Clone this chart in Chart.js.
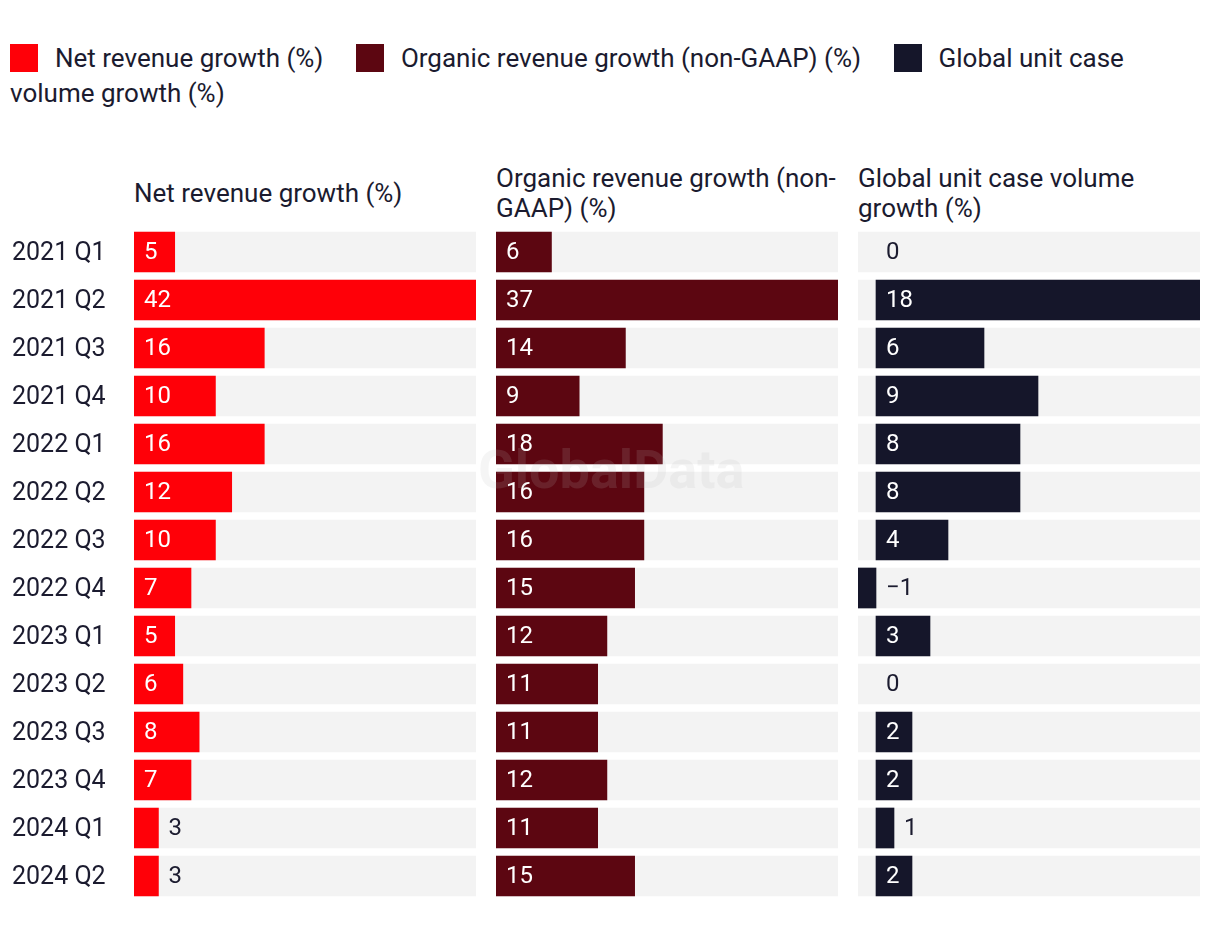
<!DOCTYPE html>
<html>
<head>
<meta charset="utf-8">
<script src="https://cdn.jsdelivr.net/npm/chart.js@4.4.1/dist/chart.umd.min.js"></script>
<style>
  body { margin: 0; background: #fff; font-family: Roboto, sans-serif; color: #1b1b2f; }
  #wrap { position: relative; width: 1220px; height: 940px; }
  #legend { position: absolute; left: 10px; top: 41px; width: 1160px; font-size: 26px; line-height: 35px; }
  #legend .sw { display: inline-block; width: 28px; height: 28px; vertical-align: -5px; margin-right: 17px; }
  #legend .it { margin-right: 26px; }
  .ttl { position: absolute; top: 160px; height: 66px; width: 342px; display: flex; align-items: center; font-size: 26px; line-height: 30px; }
  canvas { position: absolute; }
  #wm { position: absolute; left: 478px; top: 438px; font-size: 54px; font-weight: bold; color: rgba(190,190,190,0.15); pointer-events: none; font-family: Roboto, sans-serif; }
</style>
</head>
<body>
<div id="wrap">
  <div id="legend"></div>
  <div class="ttl" id="t1" style="left:134px"></div>
  <div class="ttl" id="t2" style="left:496px"></div>
  <div class="ttl" id="t3" style="left:858px"></div>
  <canvas id="c1" style="left:0px;top:228px" width="476" height="672"></canvas>
  <canvas id="c2" style="left:496px;top:228px" width="342" height="672"></canvas>
  <canvas id="c3" style="left:858px;top:228px" width="342" height="672"></canvas>
  <div id="wm">GlobalData</div>
</div>
<script>
const quarters = ["2021 Q1", "2021 Q2", "2021 Q3", "2021 Q4", "2022 Q1", "2022 Q2", "2022 Q3",
  "2022 Q4", "2023 Q1", "2023 Q2", "2023 Q3", "2023 Q4", "2024 Q1", "2024 Q2"];
const seriesNames = ["Net revenue growth (%)", "Organic revenue growth (non-GAAP) (%)", "Global unit case volume growth (%)"];
const netRevenue = [5, 42, 16, 10, 16, 12, 10, 7, 5, 6, 8, 7, 3, 3];
const organicRevenue = [6, 37, 14, 9, 18, 16, 16, 15, 12, 11, 11, 12, 11, 15];
const unitCase = [0, 18, 6, 9, 8, 8, 4, -1, 3, 0, 2, 2, 1, 2];
const colors = ["#ff0008", "#5c0611", "#15162a"];
const trackColor = "#f3f3f3";
const textDark = "#1b1b2f";
const font = "Roboto, sans-serif";

// legend + titles as plain html text
document.getElementById("legend").innerHTML = seriesNames.map((n, i) =>
  '<span class="it"><span class="sw" style="background:' + colors[i] + '"></span>' + n + '</span>').join(" ");
document.getElementById("t1").textContent = seriesNames[0];
document.getElementById("t2").textContent = seriesNames[1];
document.getElementById("t3").textContent = seriesNames[2];

// value labels: white inside the bar when it fits, dark beside it otherwise
const valueLabels = {
  id: "valueLabels",
  afterDatasetsDraw(chart) {
    const ctx = chart.ctx;
    const meta = chart.getDatasetMeta(1);
    const vals = chart.data.datasets[1].data;
    const zero = chart.scales.x.getPixelForValue(0);
    ctx.save();
    ctx.font = "24px " + font;
    ctx.textBaseline = "middle";
    ctx.textAlign = "left";
    meta.data.forEach((bar, i) => {
      const txt = vals[i] < 0 ? "\u2212" + Math.abs(vals[i]) : String(vals[i]);
      const w = ctx.measureText(txt).width;
      const len = Math.abs(bar.x - bar.base);
      if (vals[i] > 0 && len >= w + 22) {
        ctx.fillStyle = "#ffffff";
        ctx.fillText(txt, zero + 10, bar.y + 1);
      } else {
        ctx.fillStyle = textDark;
        ctx.fillText(txt, Math.max(bar.x, zero) + 10, bar.y + 1);
      }
    });
    ctx.restore();
  }
};

function makePanel(id, values, color, min, max, showLabels) {
  return new Chart(document.getElementById(id), {
    type: "bar",
    data: {
      labels: quarters,
      datasets: [{
        data: quarters.map(() => [min, max]),
        backgroundColor: trackColor,
        order: 2
      }, {
        data: values,
        backgroundColor: values.map(v => v === 0 ? "rgba(0,0,0,0)" : color),
        order: 1
      }]
    },
    options: {
      indexAxis: "y",
      responsive: false,
      animation: false,
      grouped: false,
      barThickness: 40,
      layout: { padding: { left: showLabels ? 12 : 0, right: 0, top: 0, bottom: 0 } },
      scales: {
        x: { display: false, min: min, max: max },
        y: {
          display: showLabels,
          grid: { display: false },
          border: { display: false },
          ticks: { crossAlign: "far", color: textDark, font: { family: font, size: 25 }, padding: 0, labelOffset: 2 },
          afterFit(scale) {
            if (showLabels) scale.width = 122;
            scale.paddingTop = 0;
            scale.paddingBottom = 0;
          }
        }
      },
      plugins: { legend: { display: false }, tooltip: { enabled: false } }
    },
    plugins: [valueLabels]
  });
}

makePanel("c1", netRevenue, colors[0], 0, 42, true);
makePanel("c2", organicRevenue, colors[1], 0, 37, false);
makePanel("c3", unitCase, colors[2], -1, 18, false);
</script>
</body>
</html>
